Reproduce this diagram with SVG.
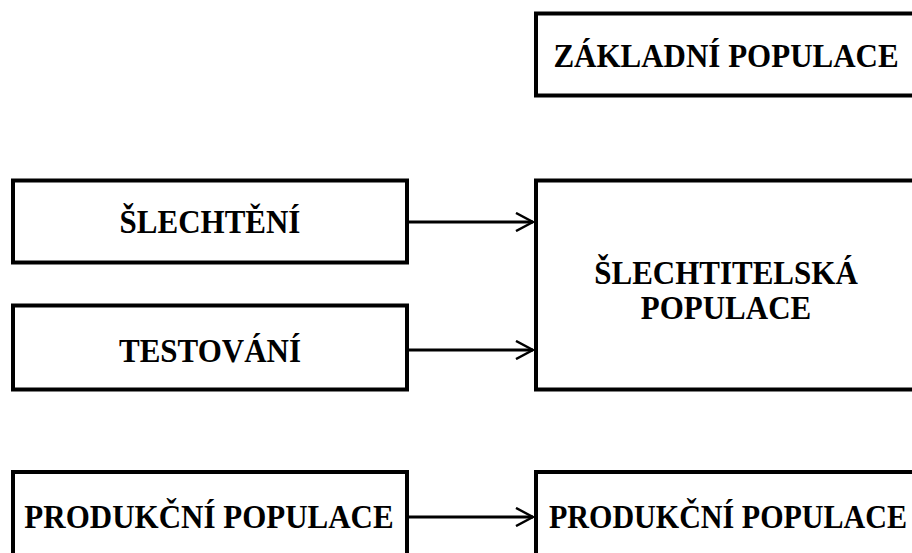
<svg xmlns="http://www.w3.org/2000/svg" width="912" height="553" viewBox="0 0 912 553">
  <defs>
    <marker id="arr" viewBox="0 0 20 20" refX="18" refY="10" markerWidth="20" markerHeight="20" markerUnits="userSpaceOnUse" orient="auto">
      <polyline points="1,1 18,10 1,19" fill="none" stroke="#000" stroke-width="2.5"/>
    </marker>
  </defs>
  <style>
    .box { fill: #fff; stroke: #000; stroke-width: 4; }
    .lbl { font-family: "Liberation Serif", "Times New Roman", serif; font-weight: bold; font-size: 31px; fill: #000; text-anchor: middle; }
    .conn { stroke: #000; stroke-width: 3; fill: none; }
  </style>
  <rect width="912" height="553" fill="#fff"/>
  <g id="zakladni">
    <rect class="box" x="536" y="13.5" width="400" height="82"/>
    <text class="lbl" transform="translate(726,67) scale(1,1.1)">ZÁKLADNÍ POPULACE</text>
  </g>
  <g id="slechteni">
    <rect class="box" x="13" y="180.5" width="394" height="82"/>
    <text class="lbl" transform="translate(210,233) scale(1,1.1)">ŠLECHTĚNÍ</text>
  </g>
  <g id="testovani">
    <rect class="box" x="13" y="305.5" width="394" height="84"/>
    <text class="lbl" transform="translate(210,362) scale(1,1.1)">TESTOVÁNÍ</text>
  </g>
  <g id="slechtitelska">
    <rect class="box" x="536" y="180.5" width="400" height="209"/>
    <text class="lbl" transform="translate(726,284) scale(1,1.1)">ŠLECHTITELSKÁ</text>
    <text class="lbl" transform="translate(726,319) scale(1,1.1)">POPULACE</text>
  </g>
  <g id="produkcni1">
    <rect class="box" x="13" y="472" width="394" height="100"/>
    <text class="lbl" transform="translate(209,528) scale(1,1.1)">PRODUKČNÍ POPULACE</text>
  </g>
  <g id="produkcni2">
    <rect class="box" x="536" y="472" width="400" height="100"/>
    <text class="lbl" transform="translate(728,528) scale(0.97,1.1)">PRODUKČNÍ POPULACE</text>
  </g>
  <g id="connectors">
    <line class="conn" x1="409" y1="222" x2="533" y2="222" marker-end="url(#arr)"/>
    <line class="conn" x1="409" y1="350" x2="533" y2="350" marker-end="url(#arr)"/>
    <line class="conn" x1="409" y1="517" x2="533" y2="517" marker-end="url(#arr)"/>
  </g>
</svg>
